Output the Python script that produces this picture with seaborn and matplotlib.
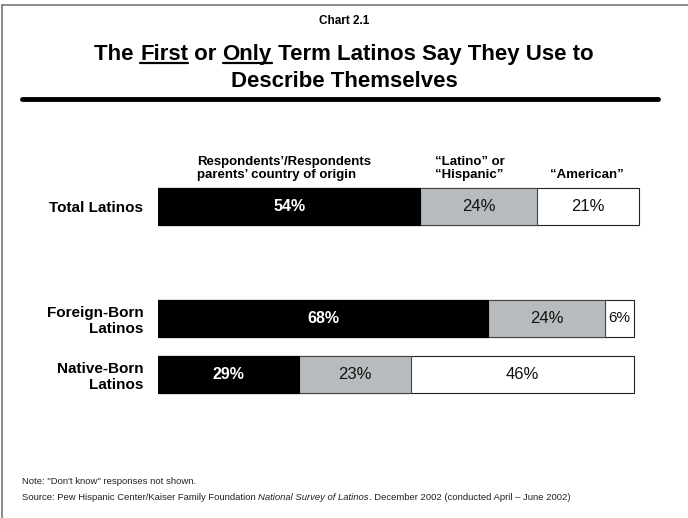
"""Chart 2.1 - first or only term Latinos use to describe themselves."""

import matplotlib
matplotlib.use("Agg")
import matplotlib.pyplot as plt
from matplotlib.lines import Line2D
import numpy as np
import pandas as pd
import seaborn as sns

groups = ["Total Latinos", "", "Foreign-Born\nLatinos", "Native-Born\nLatinos"]
origin = [54, np.nan, 68, 29]
latino_hispanic = [24, np.nan, 24, 23]
american = [21, np.nan, 6, 46]
series_labels = ["Respondents\u2019/Respondents\nparents\u2019 country of origin",
                 "\u201cLatino\u201d or\n\u201cHispanic\u201d",
                 "\u201cAmerican\u201d"]

sns.set_theme(style="white")
plt.rcParams["font.family"] = ["Liberation Sans", "DejaVu Sans"]
plt.rcParams["text.color"] = "black"
plt.rcParams["ytick.color"] = "black"

W, H = 688, 518
fig = plt.figure(figsize=(W / 100, H / 100), dpi=100)

df = pd.DataFrame({"group": groups, "origin": origin,
                   "latino": latino_hispanic, "american": american})
df["c1"] = df["origin"]
df["c2"] = df["origin"] + df["latino"]
df["c3"] = df["c2"] + df["american"]

PX_PER_PCT = 4.86
ax = fig.add_axes([158 / W, 1 - 402.5 / H, 100 * PX_PER_PCT / W, 224 / H])
ax.patch.set_alpha(0)

bar_w = 0.66
sns.barplot(data=df, y="group", x="c3", order=groups, color="white",
            edgecolor="#222222", linewidth=0.8, width=bar_w, saturation=1, ax=ax)
sns.barplot(data=df, y="group", x="c2", order=groups, color="#b8bbbd",
            edgecolor="#444444", linewidth=0.8, width=bar_w, saturation=1, ax=ax)
sns.barplot(data=df, y="group", x="c1", order=groups, color="black",
            edgecolor="black", linewidth=0.8, width=bar_w, saturation=1, ax=ax)

ax.set_xlim(0, 100)
ax.set_ylim(3.5, -0.5)
ax.set_xlabel("")
ax.set_ylabel("")
ax.set_xticks([])
for s in ax.spines.values():
    s.set_visible(False)
ax.tick_params(axis="y", length=0, pad=10.5)
ax.set_yticks(range(len(groups)))
ax.set_yticklabels(groups, fontsize=11, fontweight="bold", ha="right",
                   multialignment="right")

# value labels
for i, row in df.iterrows():
    if np.isnan(row["origin"]):
        continue
    ax.text(row["origin"] / 2, i, f"{int(row['origin'])}%", color="white",
            fontsize=11.5, fontweight="bold", ha="center", va="center")
    ax.text(row["c1"] + row["latino"] / 2, i, f"{int(row['latino'])}%",
            color="#111111", fontsize=12, ha="center", va="center")
    small = row["american"] < 10
    ax.text(row["c2"] + row["american"] / 2, i, f"{int(row['american'])}%",
            color="#111111", fontsize=11 if small else 12,
            ha="center", va="center")

# series headers
header_x = [197, 435, 550]
for lbl, x in zip(series_labels, header_x):
    fig.text(x / W, 1 - 181 / H, lbl, fontsize=9.5, fontweight="bold",
             ha="left", va="bottom", linespacing=1.15)

# title
fig.text(344 / W, 1 - 21 / H, "Chart 2.1", fontsize=8.5, fontweight="bold",
         ha="center", va="center")

pieces = ["The ", "First", " or ", "Only", " Term Latinos Say They Use to"]
underline = [False, True, False, True, False]
title_kw = dict(fontsize=16, fontweight="bold", va="baseline")
renderer = fig.canvas.get_renderer()
widths = []
for p in pieces:
    t = fig.text(0, 0, p, **title_kw)
    widths.append(t.get_window_extent(renderer).width)
    t.remove()
full = fig.text(0, 0, "".join(pieces), **title_kw)
total_w = full.get_window_extent(renderer).width
full.remove()
scale = total_w / sum(widths)
x0 = 344 - total_w / 2
base_y = 60
for p, u, w in zip(pieces, underline, widths):
    fig.text(x0 / W, 1 - base_y / H, p, ha="left", **title_kw)
    if u:
        fig.add_artist(Line2D([x0 / W, (x0 + w) / W],
                              [1 - (base_y + 3) / H, 1 - (base_y + 3) / H],
                              color="black", lw=1.6,
                              transform=fig.transFigure))
    x0 += w * scale
fig.text(344 / W, 1 - 87 / H, "Describe Themselves", ha="center", **title_kw)

# rule under title
fig.add_artist(Line2D([22 / W, 658 / W], [1 - 99 / H, 1 - 99 / H],
                      color="black", lw=3.5, transform=fig.transFigure))

# page border (top and left)
fig.add_artist(Line2D([2 / W, 1], [1 - 5 / H, 1 - 5 / H], color="#777777",
                      lw=1.2, transform=fig.transFigure))
fig.add_artist(Line2D([2 / W, 2 / W], [0, 1 - 5 / H], color="#777777",
                      lw=1.2, transform=fig.transFigure))

# notes
fig.text(22 / W, 1 - 481 / H, "Note: \"Don't know\" responses not shown.",
         fontsize=6.8, ha="left", va="center", color="#222222")
src_parts = [("Source: Pew Hispanic Center/Kaiser Family Foundation ", "normal"),
             ("National Survey of Latinos", "italic"),
             (". December 2002 (conducted April \u2013 June 2002)", "normal")]
sx = 22
for txt, style in src_parts:
    t = fig.text(sx / W, 1 - 497 / H, txt, fontsize=6.8, style=style,
                 ha="left", va="center", color="#222222")
    sx += t.get_window_extent(renderer).width

fig.savefig("out.png", dpi=100)
